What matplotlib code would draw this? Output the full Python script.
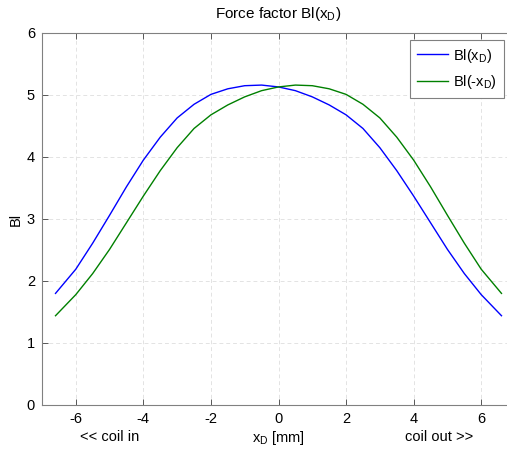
import numpy as np
import matplotlib
matplotlib.use('Agg')
import matplotlib.pyplot as plt
import matplotlib.transforms as mtransforms

# displacement of the coil [mm] and force factor
x_d = np.array([-6.6, -6.0, -5.5, -5.0, -4.5, -4.0, -3.5, -3.0, -2.5, -2.0, -1.5, -1.0, -0.5,
                0.0, 0.5, 1.0, 1.5, 2.0, 2.5, 3.0, 3.5, 4.0, 4.5, 5.0, 5.5, 6.0, 6.6])
bl = np.array([1.80, 2.19, 2.61, 3.06, 3.52, 3.95, 4.32, 4.63, 4.85, 5.01, 5.10, 5.15, 5.16,
               5.13, 5.07, 4.97, 4.84, 4.68, 4.46, 4.15, 3.78, 3.37, 2.94, 2.51, 2.12, 1.78, 1.44])

x_ticks = [-6, -4, -2, 0, 2, 4, 6]
y_ticks = [0, 1, 2, 3, 4, 5, 6]

plt.rcParams['font.family'] = ['Liberation Sans', 'DejaVu Sans']
plt.rcParams['mathtext.fontset'] = 'custom'
plt.rcParams['mathtext.rm'] = 'Liberation Sans'
plt.rcParams['mathtext.it'] = 'Liberation Sans'
plt.rcParams['axes.unicode_minus'] = False

W, H = 507, 453
fig = plt.figure(figsize=(W / 100, H / 100), dpi=100)
# axes run slightly past the right edge (the reference is cropped there)
ax = fig.add_axes([42 / W, (H - 405) / H, (515 - 42) / W, (405 - 33) / H])

ax.plot(x_d, bl, color='#0000ff', lw=1.0, label=r'Bl(x$_\mathrm{D}$)')
ax.plot(-x_d, bl, color='#008000', lw=1.0, label=r'Bl(-x$_\mathrm{D}$)')

ax.set_xlim(-7, 7)
ax.set_ylim(0, 6)
ax.set_xticks(x_ticks)
ax.set_yticks(y_ticks)
ax.tick_params(direction='in', length=4, width=0.6, top=True, right=True,
               labelsize=10.5, colors='#404040', labelcolor='black', pad=5)
for sp in ax.spines.values():
    sp.set_color('#808080')
    sp.set_linewidth(0.8)
ax.grid(True, color='#e3e3e3', linestyle=(0, (4, 3)), linewidth=0.7)

ax.set_title(r'Force factor Bl(x$_\mathrm{D}$)', fontsize=11, pad=11)
ax.set_ylabel('Bl', fontsize=10.5, labelpad=3)
ax.set_xlabel(r'x$_\mathrm{D}$ [mm]', fontsize=10.5, labelpad=2)

trans = mtransforms.blended_transform_factory(ax.transData, ax.transAxes)
ax.text(-5.0, -0.085, '<< coil in', transform=trans, ha='center', va='center', fontsize=10.5)
ax.text(4.75, -0.085, 'coil out >>', transform=trans, ha='center', va='center', fontsize=10.5)

leg = ax.legend(loc='upper right', bbox_to_anchor=(504 / W, (H - 40) / H),
                bbox_transform=fig.transFigure, borderaxespad=0, fontsize=10.5,
                fancybox=False, framealpha=1, edgecolor='#808080', handlelength=2.1,
                borderpad=0.45, labelspacing=0.6, handletextpad=0.4)
leg.get_frame().set_linewidth(0.8)

fig.savefig('out.png', dpi=100)
